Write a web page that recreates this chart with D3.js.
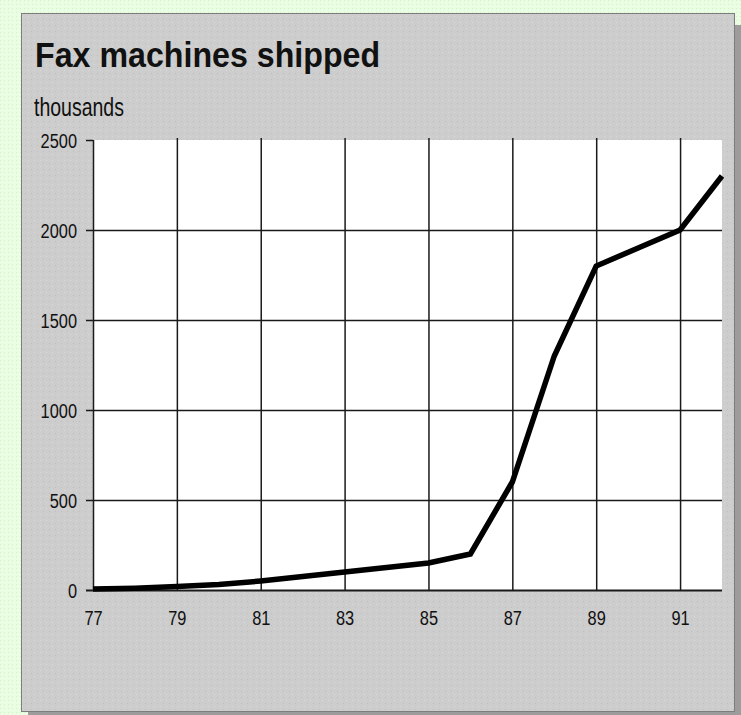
<!DOCTYPE html>
<html>
<head>
<meta charset="utf-8">
<script src="https://cdn.jsdelivr.net/npm/d3@7"></script>
<style>
  html, body { margin: 0; padding: 0; background: #e8fce2; }
  svg { display: block; }
  text { font-family: "Liberation Sans", Arial, sans-serif; fill: #111; }
</style>
</head>
<body>
<svg id="chart" width="741" height="715"></svg>
<script>
// ---- data ----
const years = [77, 78, 79, 80, 81, 82, 83, 84, 85, 86, 87, 88, 89, 90, 91, 92];
const shipments = [5, 10, 20, 30, 50, 75, 100, 125, 150, 200, 600, 1300, 1800, 1900, 2000, 2300];
const xTickValues = [77, 79, 81, 83, 85, 87, 89, 91];
const xTickLabels = ["77", "79", "81", "83", "85", "87", "89", "91"];
const yTickValues = [0, 500, 1000, 1500, 2000, 2500];
const title = "Fax machines shipped";
const unitLabel = "thousands";

// ---- layout ----
const W = 741, H = 715;
const plot = { left: 93, right: 722, top: 140, bottom: 590 };

const svg = d3.select("#chart");
const defs = svg.append("defs");

const pg = defs.append("pattern").attr("id", "greenPat").attr("width", 4).attr("height", 4)
  .attr("patternUnits", "userSpaceOnUse");
pg.append("rect").attr("width", 4).attr("height", 4).attr("fill", "#e9fde3");
pg.append("rect").attr("x", 0).attr("y", 0).attr("width", 1).attr("height", 1).attr("fill", "#d2f5c8");
pg.append("rect").attr("x", 2).attr("y", 2).attr("width", 1).attr("height", 1).attr("fill", "#f4fff0");

const pp = defs.append("pattern").attr("id", "grayPat").attr("width", 6).attr("height", 6)
  .attr("patternUnits", "userSpaceOnUse");
pp.append("rect").attr("width", 6).attr("height", 6).attr("fill", "#cdcdcd");
pp.append("rect").attr("x", 1).attr("y", 1).attr("width", 1).attr("height", 1).attr("fill", "#bdbdbd");
pp.append("rect").attr("x", 4).attr("y", 4).attr("width", 1).attr("height", 1).attr("fill", "#dadada");

// background
svg.append("rect").attr("width", W).attr("height", H).attr("fill", "url(#greenPat)");
// shadow
svg.append("rect").attr("x", 28).attr("y", 25).attr("width", 720).attr("height", 700).attr("fill", "#9c9c9c");
// panel
svg.append("rect").attr("x", 21.5).attr("y", 13.5).attr("width", 713).attr("height", 698)
  .attr("fill", "url(#grayPat)").attr("stroke", "#7d7d7d").attr("stroke-width", 1);

// scales
const x = d3.scaleLinear().domain([77, 92]).range([plot.left, plot.right]);
const y = d3.scaleLinear().domain([0, 2500]).range([plot.bottom, plot.top]);

// plot background
svg.append("rect").attr("x", plot.left).attr("y", plot.top)
  .attr("width", plot.right - plot.left).attr("height", plot.bottom - plot.top).attr("fill", "#fff");

// vertical gridlines
const xGrid = svg.append("g").attr("transform", `translate(0,${plot.bottom})`)
  .call(d3.axisBottom(x).tickValues(xTickValues.filter(v => v > 77)).tickSize(-(plot.bottom - plot.top + 2)).tickFormat(""));
xGrid.select(".domain").remove();
xGrid.selectAll("line").attr("stroke", "#1a1a1a").attr("stroke-width", 1.5);

// y axis with gridlines
const yAxis = svg.append("g").attr("transform", `translate(${plot.left},0)`)
  .call(d3.axisLeft(y).tickValues(yTickValues).tickSize(7).tickFormat(d3.format("d")));
yAxis.select(".domain").remove();
yAxis.selectAll(".tick line")
  .attr("x1", -7).attr("x2", d => d === 2500 ? 0 : plot.right - plot.left)
  .attr("stroke", "#1a1a1a").attr("stroke-width", d => d === 0 ? 2 : 1.5);
yAxis.selectAll(".tick text")
  .attr("x", null).attr("dy", "0.36em")
  .attr("transform", "translate(-16,0) scale(0.78,1)")
  .attr("text-anchor", "end").style("font-size", "21px");

// left axis line
svg.append("line").attr("x1", plot.left + 0.5).attr("x2", plot.left + 0.5)
  .attr("y1", plot.top).attr("y2", plot.bottom).attr("stroke", "#1a1a1a").attr("stroke-width", 1.5);

// x axis labels
const xAxis = svg.append("g").attr("transform", `translate(0,${plot.bottom})`)
  .call(d3.axisBottom(x).tickValues(xTickValues).tickSize(0).tickFormat((d, i) => xTickLabels[i]));
xAxis.select(".domain").remove();
xAxis.selectAll(".tick text")
  .attr("y", null).attr("dy", null)
  .attr("transform", "translate(0,35) scale(0.78,1)")
  .attr("text-anchor", "middle").style("font-size", "21px");

// data line
const line = d3.line().x((d, i) => x(years[i])).y(d => y(d));
svg.append("path").datum(shipments).attr("d", line)
  .attr("fill", "none").attr("stroke", "#000").attr("stroke-width", 5.5).attr("stroke-linejoin", "miter");

// titles
svg.append("text").attr("transform", "translate(35,67) scale(0.92,1)")
  .style("font-size", "35px").style("font-weight", "bold").text(title);
svg.append("text").attr("transform", "translate(34,116) scale(0.75,1)")
  .style("font-size", "26px").text(unitLabel);
</script>
</body>
</html>
